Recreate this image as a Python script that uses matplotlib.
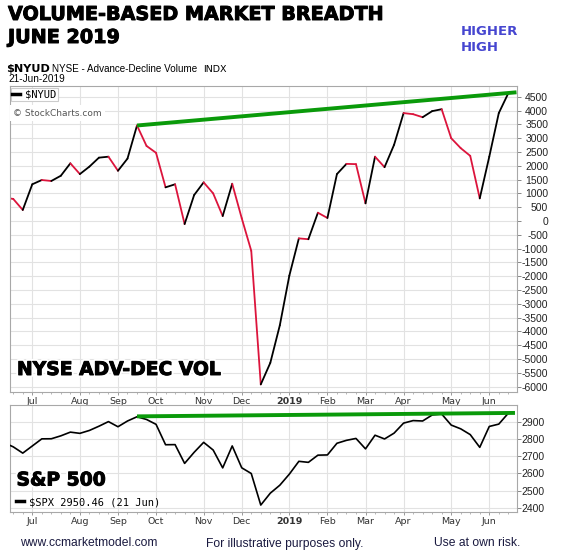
import numpy as np
import pandas as pd
import matplotlib
matplotlib.use("Agg")
import matplotlib.pyplot as plt
from matplotlib.collections import LineCollection
from matplotlib.lines import Line2D
import matplotlib.patheffects as pe

# ---------------- data ----------------
weeks = pd.date_range("2018-06-11", "2019-06-17", freq="W-MON")

nyud = [850, 800, 400, 1330, 1485, 1450, 1640, 2090, 1700, 1970,
        2295, 2330, 1820, 2260, 3460, 2720, 2470, 1220, 1330, -110,
        940, 1400, 1000, 180, 1350, 100, -1080, -5920, -5140, -3780,
        -1980, -630, -660, 300, 110, 1700, 2070, 2060, 640, 2330,
        1950, 2760, 3910, 3870, 3760, 3980, 4050, 3000, 2640, 2360,
        820, 2330, 3910, 4630]

spx = [2779.66, 2754.88, 2718.37, 2759.82, 2801.31, 2801.83, 2818.82, 2840.35,
       2833.28, 2850.13, 2874.69, 2901.52, 2871.68, 2904.98, 2929.67, 2913.98,
       2885.57, 2767.13, 2767.78, 2658.69, 2723.06, 2781.01, 2736.27, 2632.56,
       2760.17, 2633.08, 2599.95, 2416.62, 2485.74, 2531.94, 2596.26, 2670.71,
       2664.76, 2706.53, 2707.88, 2775.60, 2792.67, 2803.69, 2743.07, 2822.48,
       2800.71, 2834.40, 2892.74, 2907.41, 2905.03, 2939.88, 2945.64, 2881.40,
       2859.53, 2826.06, 2752.06, 2873.34, 2886.98, 2950.46]

month_labels = ["Jul", "Aug", "Sep", "Oct", "Nov", "Dec", "2019",
                "Feb", "Mar", "Apr", "May", "Jun"]
nyud_ticks = list(range(-6000, 4501, 500))
spx_ticks = [2400, 2500, 2600, 2700, 2800, 2900]

nyud_trend_x = [13, 52.86]
nyud_trend_y = [3460, 4663]
spx_trend_x = [13, 52.7]
spx_trend_y = [2932, 2952]

# ---------------- layout ----------------
W, H = 562, 559
def fx(px): return px / W
def fy(py): return 1 - py / H

x = np.arange(len(weeks)) - 1
month_x = [x[i] for i in range(1, len(weeks)) if weeks[i].month != weeks[i - 1].month]

GREEN = "#0a9a0a"
RED = "#DC143C"
GRID = "#e2e2e2"
SPINE = "#a8a8a8"

fig = plt.figure(figsize=(W / 100, H / 100), dpi=100)
fig.patch.set_facecolor("white")

ax1 = fig.add_axes([fx(10), fy(392), 506.5 / W, 306 / H])
ax2 = fig.add_axes([fx(10), fy(511.7), 506.5 / W, 106.7 / H])

def style(ax, yticks, ylim, pad_px):
    ax.set_xlim(-0.34, 52.86)
    ax.set_ylim(*ylim)
    ax.yaxis.tick_right()
    ax.set_yticks(yticks)
    ax.set_yticklabels([str(t) for t in yticks], fontfamily="Liberation Sans")
    for lab in ax.get_yticklabels():
        lab.set_ha("right")
    ax.tick_params(axis="y", length=3, width=0.7, color="#888",
                   labelsize=7.5, labelcolor="#222", pad=(pad_px - 3) * 0.72)
    ax.set_xticks(month_x)
    ax.set_xticklabels(month_labels)
    for lab in ax.get_xticklabels():
        lab.set_fontfamily("DejaVu Sans")
        if lab.get_text() == "2019":
            lab.set_fontweight("bold")
    ax.set_xticks(x[(x >= 0) & (x <= 52)], minor=True)
    ax.tick_params(axis="x", which="major", length=2.5, width=0.7, color="#999",
                   labelsize=6.8, labelcolor="#333", pad=1)
    ax.tick_params(axis="x", which="minor", length=1.5, width=0.6, color="#aaa")
    ax.tick_params(axis="y", which="minor", length=0)
    ax.grid(True, which="major", color=GRID, lw=0.8)
    ax.set_axisbelow(True)
    for s in ax.spines.values():
        s.set_color(SPINE)
        s.set_linewidth(0.8)

style(ax1, nyud_ticks, (-6195, 4891), 30.5)
style(ax2, spx_ticks, (2378, 2998), 27)

# NYUD line coloured by direction
pts = np.column_stack([x, nyud])
segs = np.stack([pts[:-1], pts[1:]], axis=1)
cols = [RED if nyud[i + 1] < nyud[i] else "black" for i in range(len(nyud) - 1)]
lc = LineCollection(segs, colors=cols, linewidths=1.3, capstyle="round", joinstyle="round")
ax1.add_collection(lc)
ax1.plot(nyud_trend_x, nyud_trend_y, color=GREEN, lw=2.8, solid_capstyle="butt", zorder=4)

# SPX
ax2.plot(x, spx, color="black", lw=1.2, zorder=3)
ax2.plot(spx_trend_x, spx_trend_y, color=GREEN, lw=2.8, solid_capstyle="butt", zorder=4)

# legends
mono = {"family": "DejaVu Sans Mono", "size": 7.5}
h1 = Line2D([], [], color="black", lw=2.5)
leg1 = ax1.legend([h1], [r"\$NYUD"], loc="upper left", bbox_to_anchor=(0.001, 1 - 2 / 306),
                  borderaxespad=0, frameon=True, fancybox=False, edgecolor="#cccccc",
                  framealpha=1, prop=mono, handlelength=0.8, handletextpad=0.45,
                  borderpad=0.15)
leg1.get_frame().set_linewidth(0.8)

h2 = Line2D([], [], color="black", lw=2.5)
leg2 = ax2.legend([h2], [r"\$SPX 2950.46 (21 Jun)"], loc="lower left",
                  bbox_to_anchor=(4 / 506.5, 3 / 106.7), borderaxespad=0,
                  frameon=False, prop=mono, handlelength=0.8, handletextpad=0.45,
                  borderpad=0.15)

ax1.text(fx(13), fy(115.5), "\u00a9 StockCharts.com", transform=fig.transFigure,
         fontsize=6.5, color="#555555", fontfamily="DejaVu Sans", va="baseline",
         bbox=dict(fc="white", ec="none", pad=2.2), zorder=5)

heavy = [pe.Stroke(linewidth=3.5, foreground="white"),
         pe.Stroke(linewidth=0.7, foreground="black"), pe.Normal()]
ax1.text(fx(17), fy(375), "NYSE ADV-DEC VOL", transform=fig.transFigure,
         fontsize=13.5, fontweight="bold", fontfamily="DejaVu Sans", color="black",
         va="baseline", path_effects=heavy, zorder=6)
ax2.text(fx(16.5), fy(485.5), "S&P 500", transform=fig.transFigure,
         fontsize=13.5, fontweight="bold", fontfamily="DejaVu Sans", color="black",
         va="baseline", path_effects=heavy, zorder=6)

# titles / header
tpe = [pe.Stroke(linewidth=0.7, foreground="black"), pe.Normal()]
fig.text(fx(8), fy(20), "VOLUME-BASED MARKET BREADTH", fontsize=13.8, fontweight="bold",
         fontfamily="DejaVu Sans", va="baseline", path_effects=tpe)
fig.text(fx(8), fy(43), "JUNE 2019", fontsize=13.8, fontweight="bold",
         fontfamily="DejaVu Sans", va="baseline", path_effects=tpe)
fig.text(fx(461), fy(35), "HIGHER", fontsize=9.5, fontweight="bold",
         fontfamily="DejaVu Sans", color="#4646d0", va="baseline")
fig.text(fx(461), fy(50.7), "HIGH", fontsize=9.5, fontweight="bold",
         fontfamily="DejaVu Sans", color="#4646d0", va="baseline")

fig.text(fx(6), fy(71.5), r"\$NYUD", fontsize=8.1, fontweight="bold",
         fontfamily="DejaVu Sans", va="baseline")
fig.text(fx(52), fy(71.5), "NYSE - Advance-Decline Volume", fontsize=7.1,
         fontfamily="Liberation Sans", va="baseline")
fig.text(fx(203), fy(71.5), "INDX", fontsize=6.8, fontfamily="DejaVu Sans", va="baseline")
fig.text(fx(8), fy(82.5), "21-Jun-2019", fontsize=7.2, fontfamily="Liberation Sans",
         va="baseline")

# footer
foot = dict(fontsize=8.7, fontfamily="Liberation Sans", color="#1a1a40", va="baseline")
fig.text(fx(20), fy(546.5), "www.ccmarketmodel.com", ha="left", **foot)
fig.text(fx(285), fy(546.5), "For illustrative purposes only.", ha="center", **foot)
fig.text(fx(520), fy(546.5), "Use at own risk.", ha="right", **foot)

fig.savefig("out.png", dpi=100, facecolor="white")
